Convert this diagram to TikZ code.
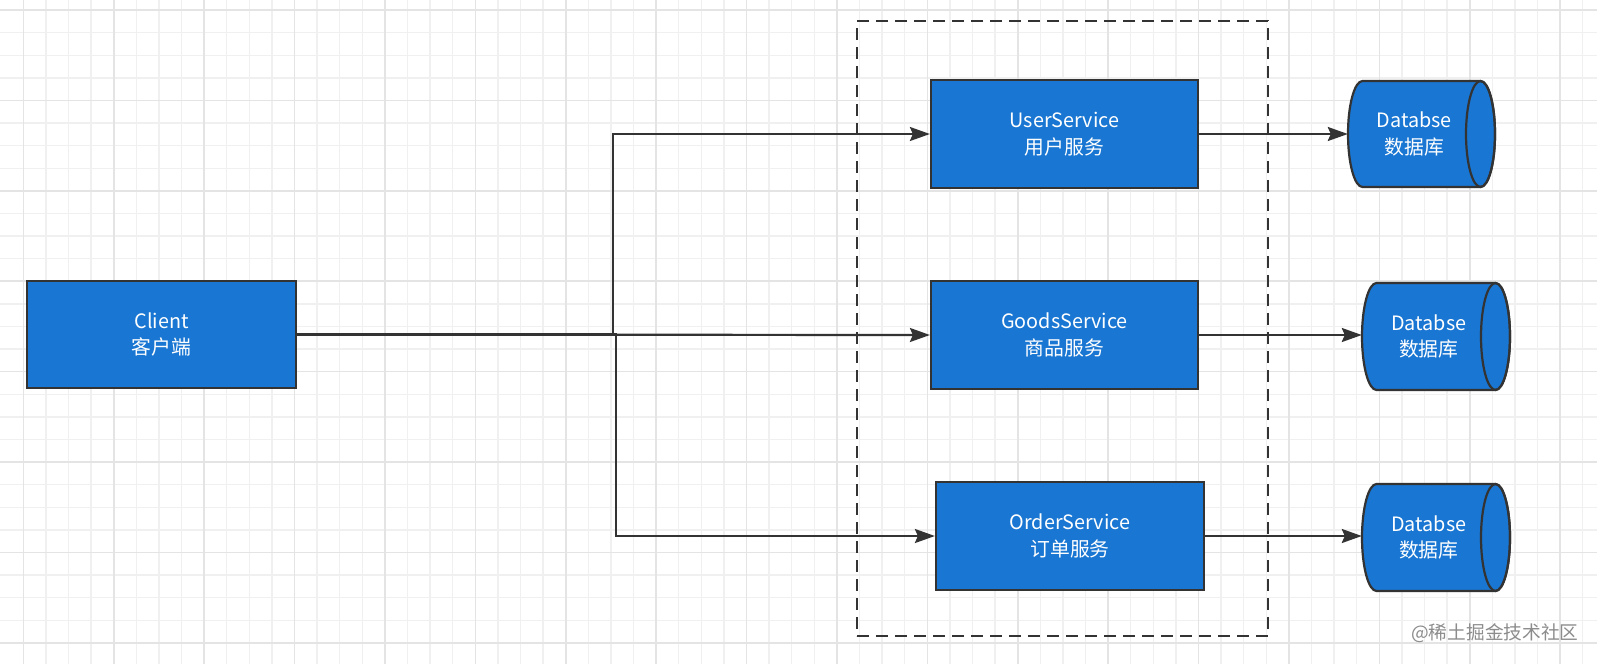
\documentclass[tikz,border=0pt]{standalone}
\usepackage{fontspec}
\setmainfont{Noto Sans CJK SC}
\usetikzlibrary{arrows.meta}
\definecolor{boxblue}{HTML}{1976D2}
\definecolor{edgec}{HTML}{333333}
\definecolor{gridminor}{HTML}{F0F0F0}
\definecolor{gridmajor}{HTML}{E4E4E4}
\definecolor{wmgray}{HTML}{8C8C8C}
\begin{document}
\begin{tikzpicture}[x=1pt,y=-1pt,
  svc/.style={draw=edgec, line width=2.2pt, fill=boxblue, text=white, align=center,
    font=\fontsize{19.8}{26.5}\selectfont, inner sep=0pt, minimum width=267pt, minimum height=108pt},
  dbtext/.style={text=white, align=center, font=\fontsize{19.8}{26.5}\selectfont, inner sep=0pt},
  dbshape/.style={fill=boxblue, draw=edgec, line width=2.2pt},
  conn/.style={draw=edgec, line width=2.2pt, -{Stealth[length=20pt,width=14pt,inset=3pt]}},
  gmin/.style={draw=gridminor, line width=1.4pt},
  gmaj/.style={draw=gridmajor, line width=1.6pt},
  groupbox/.style={draw=edgec, line width=2.5pt, dash pattern=on 12pt off 7pt, inner sep=0pt}]
\fill[white] (0,0) rectangle (1597,664);
\useasboundingbox (0,0) rectangle (1597,664);
% grid
\foreach \i in {0,...,69} {\draw[gmin] ({23.3+22.6*\i},0) -- ++(0,664);}
\foreach \i in {0,...,28} {\draw[gmin] (0,{10+22.6*\i}) -- ++(1597,0);}
\foreach \i in {0,...,17} {\draw[gmaj] ({23.3+90.4*\i},0) -- ++(0,664);}
\foreach \i in {0,...,7} {\draw[gmaj] (0,{10+90.4*\i}) -- ++(1597,0);}
% group frame
\node[groupbox, minimum width=411pt, minimum height=615pt] (group) at (1062.5,328.5) {};
% nodes
\node[svc, minimum width=269pt, minimum height=107pt] (client) at (161.5,334.5) {Client\\客户端};
\node[svc] (user) at (1064.5,134) {UserService\\用户服务};
\node[svc] (goods) at (1064.5,335) {GoodsService\\商品服务};
\node[svc, minimum width=268pt] (order) at (1070,536) {OrderService\\订单服务};
% databases
\foreach \n/\xa/\xb/\ya/\yb in {db1/1348/1495/81/187, db2/1362/1510/283/390, db3/1362/1510/484/591}{
  \pgfmathsetmacro\rx{14.5}
  \pgfmathsetmacro\ry{(\yb-\ya)/2}
  \pgfmathsetmacro\yc{(\ya+\yb)/2}
  \pgfmathsetmacro\tw{\xb-\rx-\xa}
  \pgfmathsetmacro\th{\yb-\ya}
  \draw[dbshape] (\xa+\rx,\ya) -- (\xb-\rx,\ya)
     arc[start angle=-90, end angle=90, x radius=\rx, y radius=\ry]
     -- (\xa+\rx,\yb)
     arc[start angle=90, end angle=270, x radius=\rx, y radius=\ry] -- cycle;
  \draw[edgec, line width=2.2pt] (\xb-\rx,\yc) ellipse[x radius=\rx, y radius=\ry];
  \node[dbtext, minimum width=\tw pt, minimum height=\th pt] (\n) at ({(\xa+\xb-\rx)/2},\yc) {Databse\\数据库};
}
% connectors
\coordinate (j1) at (613,334.5);
\coordinate (j2) at (616,334.5);
\draw[conn] (client.east) -- (j1) |- (user.west);
\draw[conn] (client.east) -- (goods.west);
\draw[conn] (client.east) -- (j2) |- (order.west);
\draw[conn] (user.east) -- (user.east -| db1.west);
\draw[conn] (goods.east) -- (goods.east -| db2.west);
\draw[conn] (order.east) -- (order.east -| db3.west);
% watermark
\node[text=wmgray, font=\fontsize{18.7}{18.7}\selectfont, anchor=west, inner sep=0pt] (wm) at (1411,633) {@稀土掘金技术社区};
\end{tikzpicture}
\end{document}
